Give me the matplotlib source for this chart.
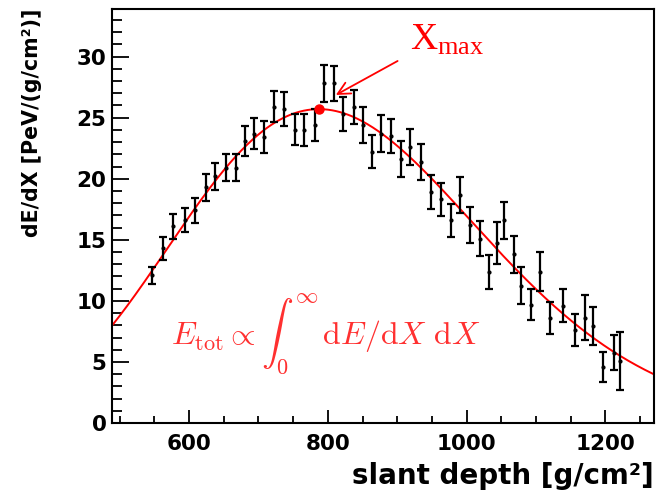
import numpy as np
import matplotlib
matplotlib.use("Agg")
import matplotlib.pyplot as plt

# measured profile points (slant depth, dE/dX, error)
depth = [547, 563, 577, 594, 609, 624, 638, 653, 667, 681, 694, 708, 723, 737, 752,
         766, 781, 795, 809, 822, 837, 851, 864, 877, 891, 905, 919, 934, 948, 963,
         977, 991, 1005, 1019, 1032, 1043, 1054, 1068, 1079, 1092, 1106, 1120, 1139,
         1156, 1171, 1182, 1196, 1213, 1221]
dedx = [12.1, 14.3, 16.1, 16.6, 17.4, 19.3, 20.2, 20.9, 20.9, 23.1, 23.7, 23.4, 25.9,
        25.7, 24.0, 24.0, 24.4, 27.8, 27.8, 25.3, 25.9, 24.4, 22.2, 23.7, 23.5, 21.6,
        22.6, 21.4, 18.9, 18.3, 16.6, 18.7, 16.2, 15.1, 12.35, 14.7, 16.6, 13.8, 11.25,
        9.7, 12.4, 8.6, 9.6, 7.6, 8.6, 7.95, 4.6, 5.76, 5.1]
dedx_err = [0.71, 0.97, 1.0, 1.0, 1.05, 1.1, 1.1, 1.1, 1.1, 1.23, 1.3, 1.3, 1.27, 1.37,
            1.27, 1.3, 1.33, 1.5, 1.43, 1.4, 1.4, 1.47, 1.35, 1.49, 1.42, 1.49, 1.48,
            1.48, 1.4, 1.39, 1.35, 1.48, 1.48, 1.41, 1.39, 1.72, 1.53, 1.49, 1.49, 1.29,
            1.6, 1.3, 1.34, 1.3, 1.84, 1.57, 1.23, 1.43, 2.38]

# Gaisser-Hillas fit parameters
x_max = 787.0
e_max = 25.7
x0 = -213.0
lam = 47.7


def gaisser_hillas(x):
    a = x_max - x0
    return e_max * ((x - x0) / a) ** (a / lam) * np.exp((x_max - x) / lam)


plt.rcParams["font.family"] = "DejaVu Sans"
plt.rcParams["mathtext.fontset"] = "cm"

fig = plt.figure(figsize=(6.6, 4.98), dpi=100)
ax = fig.add_axes([0.1697, 0.1506, 0.8213, 0.8314])

xs = np.linspace(489, 1270, 400)
ax.plot(xs, gaisser_hillas(xs), color="red", lw=1.4, zorder=2)
ax.errorbar(depth, dedx, yerr=dedx_err, fmt="o", ms=2, color="black", ecolor="black",
            elinewidth=1.6, capsize=3, capthick=1.6, zorder=3)
ax.plot([x_max], [gaisser_hillas(x_max)], "o", color="red", ms=6.5, zorder=4)

ax.annotate("", xy=(808, 26.75), xytext=(904, 29.75),
            arrowprops=dict(arrowstyle="->", color="red", lw=1.3,
                            mutation_scale=22))
ax.text(919, 30.55, r"$\mathregular{X_{max}}$", color="red", fontsize=27,
        family="Liberation Serif", va="baseline", ha="left")
ax.text(574, 6.4, r"$E_{\rm tot} \propto \int_0^{\infty}\, {\rm d}E/{\rm d}X\ {\rm d}X$",
        color="#ff3030", fontsize=23, va="baseline", ha="left")

ax.set_xlim(489, 1270)
ax.set_ylim(0, 33.9)
ax.set_xticks([600, 800, 1000, 1200])
ax.set_xticks(np.arange(500, 1270, 50), minor=True)
ax.set_yticks([0, 5, 10, 15, 20, 25, 30])
ax.set_yticks(np.arange(0, 34, 1), minor=True)

ax.tick_params(axis="both", which="both", direction="in", width=1.3, colors="black")
ax.tick_params(axis="x", which="major", length=9.5, pad=8, labelsize=15.5)
ax.tick_params(axis="x", which="minor", length=5)
ax.tick_params(axis="y", which="major", length=12, pad=4, labelsize=15.5)
ax.tick_params(axis="y", which="minor", length=7)
for lab in ax.get_xticklabels() + ax.get_yticklabels():
    lab.set_fontweight("bold")

for sp in ax.spines.values():
    sp.set_linewidth(1.5)

ax.set_xlabel("slant depth [g/cm²]", fontsize=20, fontweight="bold", loc="right")
ax.xaxis.set_label_coords(1.0, -0.093)
ax.xaxis.label.set_va("top")
ax.set_ylabel("dE/dX [PeV/(g/cm²)]", fontsize=14.8, fontweight="bold", loc="top")
ax.yaxis.set_label_coords(-0.129, 1.0)

fig.savefig("out.png", dpi=100)
